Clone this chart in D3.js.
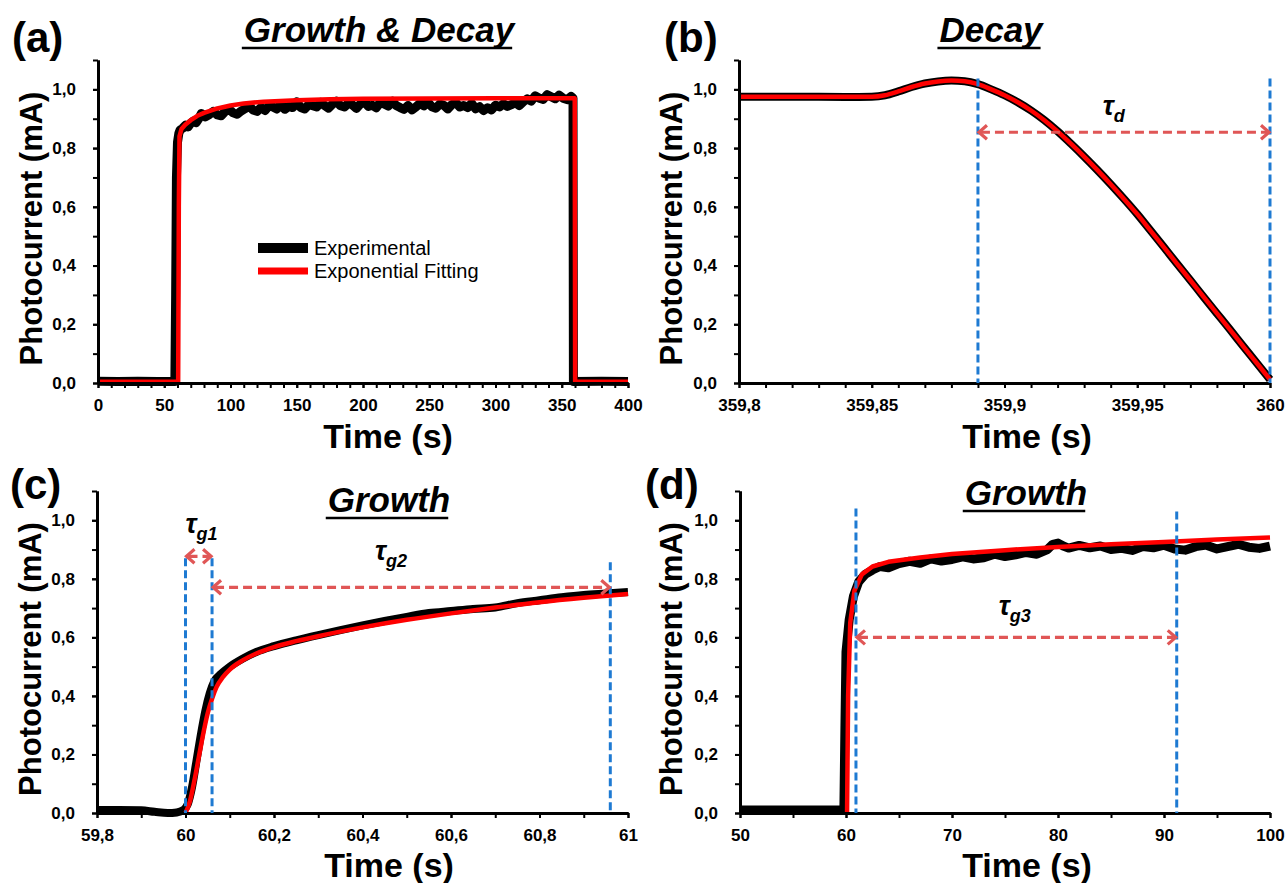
<!DOCTYPE html>
<html>
<head>
<meta charset="utf-8">
<script src="https://cdn.jsdelivr.net/npm/d3@7"></script>
<style>
  body { margin: 0; background: #fff; }
  svg text { font-family: "Liberation Sans", Arial, sans-serif; }
</style>
</head>
<body>
<div id="chart"></div>
<script>
"use strict"

/* ---------- data ---------- */

// y axis (shared by all panels)
const yTicks = [0, 0.2, 0.4, 0.6, 0.8, 1.0];
const yLabels = ["0,0", "0,2", "0,4", "0,6", "0,8", "1,0"];
const yMinor = [0, 0.1, 0.2, 0.3, 0.4, 0.5, 0.6, 0.7, 0.8, 0.9, 1.0, 1.1];

// (a) growth & decay
const xTicksA = [0, 50, 100, 150, 200, 250, 300, 350, 400];
const xLabelsA = ["0", "50", "100", "150", "200", "250", "300", "350", "400"];
const expA = [
  [0, 0.006], [15, 0.005], [30, 0.006], [45, 0.005], [58, 0.005], [58.6, 0.30], [59.2, 0.70],
  [60, 0.82], [61, 0.85], [62, 0.862], [64, 0.868], [66, 0.878], [68, 0.872], [70, 0.885],
  [72, 0.892], [74, 0.886], [76, 0.90], [78, 0.918], [81, 0.906], [84, 0.914], [87, 0.925],
  [90, 0.913], [93, 0.91], [96, 0.925], [99, 0.932], [102, 0.92], [105, 0.915], [108, 0.926],
  [111, 0.934], [114, 0.943], [117, 0.93], [120, 0.925], [123, 0.938], [126, 0.928],
  [129, 0.944], [132, 0.94], [135, 0.933], [138, 0.95], [141, 0.932], [144, 0.942],
  [147, 0.938], [150, 0.958], [153, 0.938], [156, 0.933], [159, 0.948], [162, 0.944],
  [165, 0.94], [168, 0.956], [171, 0.945], [174, 0.936], [177, 0.95], [180, 0.96],
  [183, 0.944], [186, 0.94], [189, 0.953], [192, 0.947], [195, 0.935], [198, 0.95],
  [201, 0.958], [204, 0.942], [207, 0.946], [210, 0.937], [213, 0.955], [216, 0.95],
  [219, 0.943], [222, 0.96], [225, 0.945], [228, 0.938], [231, 0.932], [234, 0.945],
  [237, 0.93], [240, 0.94], [243, 0.952], [246, 0.944], [249, 0.956], [252, 0.941],
  [255, 0.936], [258, 0.95], [261, 0.946], [264, 0.933], [267, 0.948], [270, 0.955],
  [273, 0.94], [276, 0.945], [279, 0.938], [282, 0.952], [285, 0.934], [288, 0.941],
  [291, 0.928], [294, 0.937], [297, 0.93], [300, 0.946], [303, 0.94], [306, 0.951],
  [309, 0.942], [312, 0.948], [315, 0.955], [318, 0.945], [321, 0.958], [324, 0.968],
  [327, 0.96], [330, 0.978], [333, 0.97], [336, 0.966], [339, 0.982], [342, 0.975],
  [345, 0.968], [348, 0.98], [351, 0.97], [354, 0.965], [357, 0.976], [358.5, 0.97],
  [358.8, 0.005], [380, 0.006], [400, 0.005]
];
const fitA = [
  [0, 0.004], [60.5, 0.004], [61, 0.6], [61.5, 0.84], [63, 0.865], [66, 0.88], [70, 0.895],
  [75, 0.91], [80, 0.92], [90, 0.935], [100, 0.945], [110, 0.952], [125, 0.958], [150, 0.963],
  [175, 0.966], [200, 0.968], [250, 0.969], [300, 0.97], [359.8, 0.97], [360.1, 0.004],
  [400, 0.004]
];

// (b) decay
const xTicksB = [359.8, 359.85, 359.9, 359.95, 360];
const xLabelsB = ["359,8", "359,85", "359,9", "359,95", "360"];
const expB = [
  [359.8, 0.975], [359.82, 0.975], [359.84, 0.974], [359.85, 0.975], [359.855, 0.98],
  [359.86, 0.993], [359.865, 1.008], [359.87, 1.02], [359.875, 1.027], [359.88, 1.03],
  [359.885, 1.028], [359.89, 1.018], [359.895, 1.0], [359.9, 0.98], [359.905, 0.956],
  [359.91, 0.928], [359.915, 0.895], [359.92, 0.857], [359.925, 0.815], [359.93, 0.771],
  [359.935, 0.725], [359.94, 0.677], [359.945, 0.627], [359.95, 0.575], [359.955, 0.519],
  [359.96, 0.463], [359.965, 0.406], [359.97, 0.35], [359.975, 0.293], [359.98, 0.237],
  [359.985, 0.181], [359.99, 0.124], [359.995, 0.068], [360, 0.012]
];
const fitB = [
  [359.8, 0.975], [359.82, 0.975], [359.84, 0.975], [359.85, 0.975], [359.855, 0.98],
  [359.86, 0.993], [359.865, 1.008], [359.87, 1.02], [359.875, 1.027], [359.88, 1.03],
  [359.885, 1.028], [359.89, 1.018], [359.895, 1.0], [359.9, 0.98], [359.905, 0.956],
  [359.91, 0.928], [359.915, 0.895], [359.92, 0.857], [359.925, 0.815], [359.93, 0.771],
  [359.935, 0.725], [359.94, 0.677], [359.945, 0.627], [359.95, 0.575], [359.955, 0.519],
  [359.96, 0.463], [359.965, 0.406], [359.97, 0.35], [359.975, 0.293], [359.98, 0.237],
  [359.985, 0.181], [359.99, 0.124], [359.995, 0.068], [360, 0.012]
];
const tauLinesB = [[359.89, 1.037], [360, 1.037]];
const tauArrowsB = [[359.89, 360, 0.854]];
const tauLabelsB = [[359.937, 0.912, "d"]];

// (c) growth, short time scale
const xTicksC = [59.8, 60, 60.2, 60.4, 60.6, 60.8, 61];
const xLabelsC = ["59,8", "60", "60,2", "60,4", "60,6", "60,8", "61"];
const expC = [
  [59.8, 0.01], [59.85, 0.01], [59.9, 0.009], [59.93, 0.004], [59.96, 0.0], [59.98, 0.002],
  [59.995, 0.01], [60.005, 0.03], [60.015, 0.09], [60.025, 0.18], [60.035, 0.27],
  [60.045, 0.35], [60.055, 0.41], [60.065, 0.45], [60.08, 0.475], [60.1, 0.5], [60.13, 0.528],
  [60.16, 0.55], [60.2, 0.57], [60.25, 0.59], [60.3, 0.608], [60.35, 0.625], [60.4, 0.641],
  [60.45, 0.656], [60.5, 0.67], [60.55, 0.683], [60.6, 0.69], [60.65, 0.697], [60.7, 0.702],
  [60.75, 0.717], [60.8, 0.727], [60.85, 0.737], [60.9, 0.745], [60.95, 0.75], [61, 0.755]
];
const fitC = [
  [60, 0.0], [60.01, 0.04], [60.02, 0.11], [60.03, 0.19], [60.04, 0.27], [60.05, 0.34],
  [60.06, 0.39], [60.07, 0.43], [60.085, 0.465], [60.1, 0.49], [60.13, 0.522], [60.16, 0.545],
  [60.2, 0.567], [60.25, 0.587], [60.3, 0.604], [60.4, 0.634], [60.5, 0.66], [60.6, 0.682],
  [60.7, 0.702], [60.8, 0.72], [60.9, 0.735], [61, 0.748]
];
const tauLinesC = [[60, 0.87], [60.06, 0.87], [60.96, 0.857]];
const tauArrowsC = [[60, 60.06, 0.877], [60.06, 60.96, 0.771]];
const tauLabelsC = [[60.0, 0.956, "g1"], [60.428, 0.863, "g2"]];

// (d) growth, long time scale
const xTicksD = [50, 60, 70, 80, 90, 100];
const xLabelsD = ["50", "60", "70", "80", "90", "100"];
const expD = [
  [50, 0.01], [55, 0.01], [59.8, 0.01], [59.9, 0.3], [60, 0.55], [60.3, 0.66], [60.7, 0.74],
  [61.2, 0.79], [61.8, 0.815], [62.5, 0.83], [63.2, 0.842], [64, 0.838], [65, 0.852],
  [66, 0.86], [67, 0.853], [68, 0.868], [69, 0.861], [70, 0.866], [71, 0.875], [72, 0.868],
  [73, 0.872], [74, 0.884], [75, 0.876], [76, 0.882], [77, 0.89], [78, 0.884], [79, 0.9],
  [79.5, 0.918], [80, 0.922], [80.5, 0.912], [81, 0.905], [82, 0.914], [83, 0.906],
  [84, 0.912], [85, 0.9], [86, 0.904], [87, 0.897], [88, 0.91], [89, 0.906], [90, 0.915],
  [91, 0.902], [92, 0.898], [93, 0.91], [94, 0.915], [95, 0.902], [96, 0.91], [97, 0.918],
  [98, 0.908], [99, 0.904], [100, 0.912]
];
const fitD = [
  [60.1, 0.0], [60.2, 0.4], [60.4, 0.65], [60.8, 0.76], [61.5, 0.815], [62.5, 0.842],
  [64, 0.858], [67, 0.873], [70, 0.885], [75, 0.898], [80, 0.909], [85, 0.918], [90, 0.926],
  [95, 0.934], [100, 0.941]
];
const tauLinesD = [[60.94, 1.04], [91.2, 1.03]];
const tauArrowsD = [[60.94, 91.2, 0.6]];
const tauLabelsD = [[74.4, 0.678, "g3"]];

const legendLabels = ["Experimental", "Exponential Fitting"];

/* ---------- drawing ---------- */

let drawing = d3.select("#chart")
  .append("svg")
  .attr("width", 1287)
  .attr("height", 883);

const BLUE = "#1e7ad2";
const RED_DASH = "#e05656";

let panels = [
  { label: "(a)", labelX: 12, labelY: 52, title: "Growth & Decay", titleX: 379, titleY: 42,
    left: 98, right: 628, top: 60, bottom: 383, xDomain: [0, 400],
    xTicks: xTicksA, xLabels: xLabelsA, xMinor: d3.range(0, 401, 10),
    exp: expA, fit: fitA, smooth: false, expWidth: 9, yTitleX: 31, xTitleX: 388, xTitleY: 448,
    lines: [], arrows: [], taus: [] },
  { label: "(b)", labelX: 664, labelY: 52, title: "Decay", titleX: 991, titleY: 42,
    left: 739, right: 1270, top: 60, bottom: 383, xDomain: [359.8, 360],
    xTicks: xTicksB, xLabels: xLabelsB, xMinor: d3.range(0, 21).map(i => 359.8 + i * 0.01),
    exp: expB, fit: fitB, smooth: true, expWidth: 8, yTitleX: 671, xTitleX: 1027, xTitleY: 448,
    lines: tauLinesB, arrows: tauArrowsB, taus: tauLabelsB },
  { label: "(c)", labelX: 10, labelY: 499, title: "Growth", titleX: 389, titleY: 512,
    left: 97, right: 628, top: 491, bottom: 813, xDomain: [59.8, 61],
    xTicks: xTicksC, xLabels: xLabelsC, xMinor: d3.range(0, 13).map(i => 59.8 + i * 0.1),
    exp: expC, fit: fitC, smooth: true, expWidth: 8, yTitleX: 30, xTitleX: 389, xTitleY: 877,
    lines: tauLinesC, arrows: tauArrowsC, taus: tauLabelsC },
  { label: "(d)", labelX: 645, labelY: 499, title: "Growth", titleX: 1026, titleY: 505,
    left: 740, right: 1270, top: 491, bottom: 813, xDomain: [50, 100],
    xTicks: xTicksD, xLabels: xLabelsD, xMinor: d3.range(50, 101, 5),
    exp: expD, fit: fitD, smooth: false, expWidth: 9, yTitleX: 671, xTitleX: 1027, xTitleY: 877,
    lines: tauLinesD, arrows: tauArrowsD, taus: tauLabelsD }
];

panels.forEach(drawPanel);
drawLegend();

function drawPanel(p) {
  let x = d3.scaleLinear().domain(p.xDomain).range([p.left, p.right]);
  let y = d3.scaleLinear().domain([0, 1.1]).range([p.bottom, p.top]);

  let g = drawing.append("g");

  /* curves: thick black experimental, thinner red fit */
  let line = d3.line()
    .x(d => x(d[0]))
    .y(d => y(d[1]))
    .curve(p.smooth ? d3.curveMonotoneX : d3.curveLinear);

  g.append("path")
    .attr("d", line(p.exp))
    .attr("fill", "none")
    .attr("stroke", "black")
    .attr("stroke-width", p.expWidth)
    .attr("stroke-linejoin", "round");

  g.append("path")
    .attr("d", line(p.fit))
    .attr("fill", "none")
    .attr("stroke", "#ff0000")
    .attr("stroke-width", 4.5)
    .attr("stroke-linejoin", "round");

  /* axes */
  let xMinorAxis = d3.axisBottom(x).tickValues(p.xMinor).tickFormat("").tickSize(5).tickSizeOuter(0);
  let xAxis = d3.axisBottom(x).tickValues(p.xTicks)
    .tickFormat((d, i) => p.xLabels[i]).tickSize(5).tickPadding(11).tickSizeOuter(0);
  let yMinorAxis = d3.axisLeft(y).tickValues(yMinor).tickFormat("").tickSize(5).tickSizeOuter(0);
  let yAxis = d3.axisLeft(y).tickValues(yTicks)
    .tickFormat((d, i) => yLabels[i]).tickSize(5).tickPadding(17).tickSizeOuter(0);

  [xMinorAxis, xAxis].forEach(ax => {
    g.append("g").attr("transform", `translate(0,${p.bottom})`).call(ax).call(styleAxis);
  });
  [yMinorAxis, yAxis].forEach(ax => {
    g.append("g").attr("transform", `translate(${p.left},0)`).call(ax).call(styleAxis);
  });

  /* blue dashed markers */
  p.lines.forEach(l => {
    g.append("line")
      .attr("x1", x(l[0])).attr("x2", x(l[0]))
      .attr("y1", y(l[1])).attr("y2", y(0))
      .attr("stroke", BLUE)
      .attr("stroke-width", 3)
      .attr("stroke-dasharray", "8,4");
  });

  /* red dashed double arrows */
  p.arrows.forEach(a => {
    let x1 = x(a[0]), x2 = x(a[1]), yy = y(a[2]);
    g.append("line")
      .attr("x1", x1 + 3).attr("x2", x2 - 3)
      .attr("y1", yy).attr("y2", yy)
      .attr("stroke", RED_DASH)
      .attr("stroke-width", 3.2)
      .attr("stroke-dasharray", "9,5");
    g.append("path")
      .attr("d", `M${x1 + 9},${yy - 7}L${x1 + 1},${yy}L${x1 + 9},${yy + 7}`)
      .attr("fill", "none").attr("stroke", RED_DASH).attr("stroke-width", 3.2);
    g.append("path")
      .attr("d", `M${x2 - 9},${yy - 7}L${x2 - 1},${yy}L${x2 - 9},${yy + 7}`)
      .attr("fill", "none").attr("stroke", RED_DASH).attr("stroke-width", 3.2);
  });

  /* tau labels */
  p.taus.forEach(t => {
    let txt = g.append("text")
      .attr("x", x(t[0]))
      .attr("y", y(t[1]))
      .attr("font-weight", "bold")
      .attr("font-style", "italic")
      .attr("font-size", 27)
      .attr("fill", "black");
    txt.append("tspan").text("τ");
    txt.append("tspan").attr("font-size", 18).attr("dy", 7).text(t[2]);
  });

  /* panel letter */
  g.append("text")
    .attr("x", p.labelX)
    .attr("y", p.labelY)
    .attr("font-size", 42)
    .attr("font-weight", "bold")
    .text(p.label);

  /* underlined italic title */
  let title = g.append("text")
    .attr("x", p.titleX)
    .attr("y", p.titleY)
    .attr("text-anchor", "middle")
    .attr("font-size", 35)
    .attr("font-weight", "bold")
    .attr("font-style", "italic")
    .text(p.title);
  let tw = title.node().getComputedTextLength();
  g.append("line")
    .attr("x1", p.titleX - tw / 2 - 2).attr("x2", p.titleX + tw / 2 - 2)
    .attr("y1", p.titleY + 6).attr("y2", p.titleY + 6)
    .attr("stroke", "black")
    .attr("stroke-width", 2.6);

  /* axis titles */
  g.append("text")
    .attr("transform", `translate(${p.yTitleX},${(p.top + p.bottom) / 2 + 7}) rotate(-90)`)
    .attr("dy", "0.35em")
    .attr("text-anchor", "middle")
    .attr("font-size", 31)
    .attr("font-weight", "bold")
    .text("Photocurrent (mA)");

  g.append("text")
    .attr("x", p.xTitleX)
    .attr("y", p.xTitleY)
    .attr("text-anchor", "middle")
    .attr("font-size", 34)
    .attr("font-weight", "bold")
    .text("Time (s)");
}

function styleAxis(sel) {
  sel.select(".domain").attr("stroke", "black").attr("stroke-width", 3);
  sel.selectAll(".tick line").attr("stroke", "black").attr("stroke-width", 2);
  sel.selectAll(".tick text")
    .attr("fill", "black")
    .attr("font-size", 17)
    .attr("font-weight", "bold")
    .style("font-family", "'Liberation Sans', Arial, sans-serif");
}

function drawLegend() {
  let colors = ["black", "#ff0000"];
  let heights = [10, 7];
  let rowY = [248, 271];
  legendLabels.forEach((name, i) => {
    drawing.append("rect")
      .attr("x", 258)
      .attr("y", rowY[i] - heights[i] / 2)
      .attr("width", 50)
      .attr("height", heights[i])
      .attr("fill", colors[i]);
    drawing.append("text")
      .attr("x", 314)
      .attr("y", rowY[i] + 7)
      .attr("font-size", 20)
      .attr("fill", "black")
      .text(name);
  });
}
</script>
</body>
</html>
